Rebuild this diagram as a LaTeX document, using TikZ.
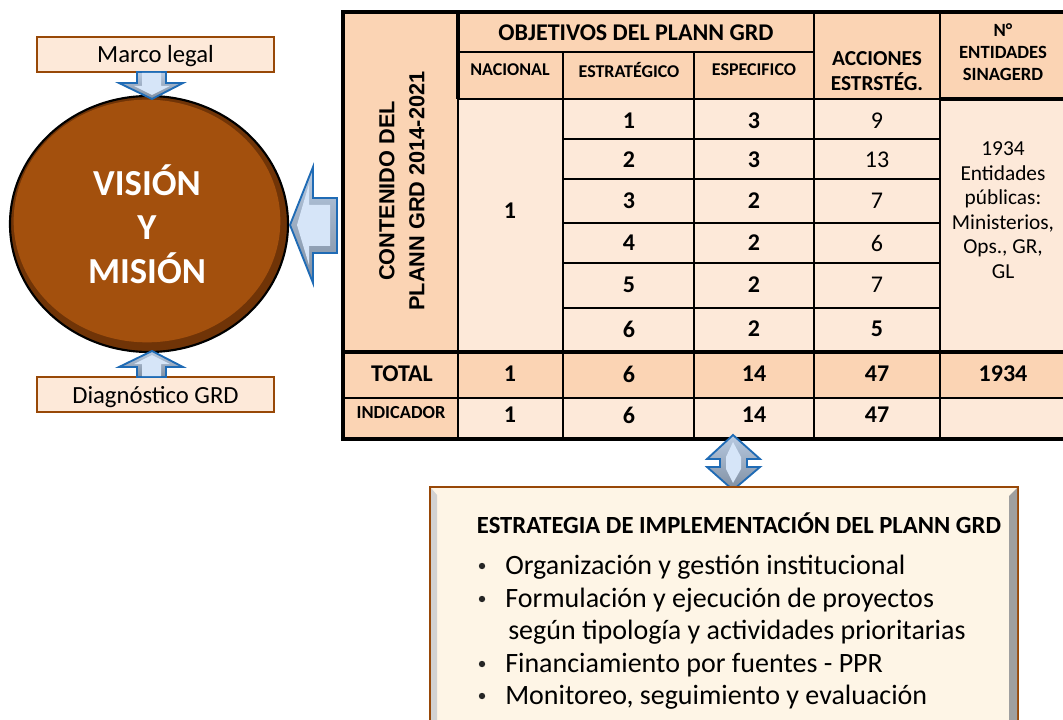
\documentclass[tikz,border=0pt]{standalone}
\usepackage{fontspec}
\usetikzlibrary{shapes.geometric}
\setmainfont{Carlito}
\newfontfamily\arialfont{Liberation Sans}
\definecolor{peach}{HTML}{FBD4B4}
\definecolor{lightpeach}{HTML}{FDE9D9}
\definecolor{cream}{HTML}{FEF5E6}
\definecolor{boxbrown}{HTML}{984807}
\definecolor{ballbrown}{HTML}{A3500D}
\definecolor{balldark}{HTML}{703407}
\definecolor{arrblue}{HTML}{1F6BB5}
\definecolor{arrlight}{HTML}{D6E5F8}
\definecolor{arrtop}{HTML}{B9CBE2}
\definecolor{arrgray}{HTML}{7F8EA1}
\begin{document}
\begin{tikzpicture}[x=0.75pt,y=-0.75pt,
  tline/.style={line width=1.1pt,black},
  tthick/.style={line width=2.3pt,black},
  hdr/.style={font=\bfseries\fontsize{13.5}{17}\selectfont,align=center,inner sep=0pt},
  bignum/.style={font=\bfseries\fontsize{18}{20}\selectfont,inner sep=0pt},
  regnum/.style={font=\fontsize{18}{20}\selectfont,inner sep=0pt},
  sidebox/.style={draw=boxbrown,line width=1.8pt,fill=lightpeach,minimum width=177.75pt,minimum height=26.25pt,inner sep=0pt},
  sidetext/.style={anchor=base,inner sep=0pt,font=\fontsize{18.5}{20}\selectfont},
  blockarrow/.style={draw=arrblue,line width=1.4pt,line join=miter,top color=arrtop,bottom color=arrgray},
  arrface/.style={fill=arrlight},
  bullettext/.style={anchor=base west,inner sep=0pt,font=\fontsize{21}{24}\selectfont},
  bulletdot/.style={circle,fill=black!85,inner sep=0pt,minimum size=4.8pt},
]
\useasboundingbox (0,0) rectangle (1063,720);
\clip (0,0) rectangle (1063,720);

% ---------------- left side ----------------
\node[ellipse,draw=black,line width=1.6pt,fill=balldark,minimum width=208.5pt,minimum height=192pt,inner sep=0pt] (ballout) at (149,224) {};
\node[ellipse,fill=ballbrown,minimum width=200pt,minimum height=182pt,inner sep=0pt] (ballin) at (147,221) {};
\node[align=center,text=white,font=\bfseries\fontsize{27.5}{33}\selectfont,inner sep=0pt] (vision) at (147,224) {VISIÓN\\Y\\MISIÓN};

\node[sidebox] (marco) at (155.5,54.5) {};
\node[sidetext] (marcot) at (155.5,63) {Marco legal};
\node[sidebox] (diag) at (155.5,394.5) {};
\node[sidetext] (diagt) at (155.5,403) {Diagnóstico GRD};

% down arrow (Marco legal -> circle)
\path[blockarrow] (137,72) -- (137,83) -- (119,83) -- (152,99) -- (183,83) -- (166,83) -- (166,72) -- cycle;
\path[arrface] (142,73) -- (142,86) -- (134,86) -- (152,95) -- (170,86) -- (161,86) -- (161,73) -- cycle;
% up arrow (Diagnostico -> circle)
\path[blockarrow] (137,377) -- (137,367) -- (119,367) -- (152,351) -- (183,367) -- (166,367) -- (166,377) -- cycle;
\path[arrface] (142,376) -- (142,364) -- (134,364) -- (152,355) -- (170,364) -- (161,364) -- (161,376) -- cycle;
% left arrow (table -> circle)
\path[blockarrow] (337,198) -- (313,198) -- (313,167) -- (290,225) -- (313,283) -- (313,253) -- (337,253) -- cycle;
\path[arrface] (330,205) -- (309,205) -- (309,184) -- (297,225) -- (309,265) -- (309,246) -- (330,246) -- cycle;

% ---------------- table ----------------
\fill[peach] (343,12) rectangle (1063,99);
\fill[peach] (343,99) rectangle (458,352);
\fill[lightpeach] (458,99) rectangle (1063,352);
\fill[peach] (343,352) rectangle (1063,398);
\fill[peach] (343,398) rectangle (458,439);
\fill[lightpeach] (458,398) rectangle (1063,439);

% vertical lines
\draw[tthick] (458,12) -- (458,99);
\draw[tline] (458,99) -- (458,439);
\draw[tline] (563,52) -- (563,439);
\draw[tline] (694,52) -- (694,439);
\draw[tline] (814,12) -- (814,439);
\draw[tline] (940,12) -- (940,439);
% horizontal lines
\draw[line width=1.6pt] (458,52) -- (814,52);
\draw[tline] (458,99) -- (940,99);
\draw[tthick] (940,99) -- (1063,99);
\foreach \yy in {139,179,223,263,308} { \draw[tline] (563,\yy) -- (940,\yy); }
\draw[line width=1.6pt] (563,179) rectangle (940,263);
\draw[line width=1.6pt] (563,223) -- (940,223);
\draw[tthick] (343,352) -- (1063,352);
\draw[tline] (343,398) -- (1063,398);
\draw[line width=2.8pt,line join=miter] (1064,12) -- (343,12) -- (343,439) -- (1064,439);

% header texts
\node[hdr,font=\bfseries\fontsize{18}{20}\selectfont] (objetivos) at (636,33) {OBJETIVOS DEL PLANN GRD};
\node[hdr] (nacional) at (510,70) {NACIONAL};
\node[hdr] (estrategico) at (629,70) {ESTRATÉGICO};
\node[hdr] (especifico) at (754,70) {ESPECIFICO};
\node[hdr,font=\bfseries\fontsize{16}{18.75}\selectfont] (acciones) at (877,71) {ACCIONES\\ESTRSTÉG.};
\node[hdr,font=\bfseries\fontsize{14}{16.5}\selectfont] (entidades) at (1003,52) {N°\\ENTIDADES\\SINAGERD};
\node[align=center,rotate=90,font=\arialfont\bfseries\fontsize{16.3}{22.5}\selectfont,inner sep=0pt] (contenido) at (402,191) {CONTENIDO DEL\\PLANN GRD 2014-2021};

% body
\node[bignum] (nac1) at (510,211) {1};
\node[bignum] (e1) at (629,121) {1};
\node[bignum] (e2) at (629,160) {2};
\node[bignum] (e3) at (629,201) {3};
\node[bignum] (e4) at (629,243) {4};
\node[bignum] (e5) at (629,285) {5};
\node[bignum] (e6) at (629,329) {6};
\node[bignum] (s1) at (754,121) {3};
\node[bignum] (s2) at (754,160) {3};
\node[bignum] (s3) at (754,201) {2};
\node[bignum] (s4) at (754,243) {2};
\node[bignum] (s5) at (754,285) {2};
\node[bignum] (s6) at (754,329) {2};
\node[regnum] (a1) at (877,121) {9};
\node[regnum] (a2) at (877,160) {13};
\node[regnum] (a3) at (877,201) {7};
\node[regnum] (a4) at (877,243) {6};
\node[regnum] (a5) at (877,285) {7};
\node[bignum] (a6) at (877,329) {5};
\node[align=center,font=\fontsize{16}{18.4}\selectfont,inner sep=0pt] (entbody) at (1003,210) {1934\\Entidades\\públicas:\\Ministerios,\\Ops., GR,\\GL};

% total row
\node[bignum] (total) at (402,374) {TOTAL};
\node[bignum] (t1) at (510,374) {1};
\node[bignum] (t2) at (629,374) {6};
\node[bignum] (t3) at (754,374) {14};
\node[bignum] (t4) at (877,374) {47};
\node[bignum] (t5) at (1003,374) {1934};
% indicador row
\node[hdr,font=\bfseries\fontsize{13.8}{15}\selectfont] (indicador) at (401,413) {INDICADOR};
\node[bignum] (i1) at (510,415) {1};
\node[bignum] (i2) at (629,415) {6};
\node[bignum] (i3) at (754,415) {14};
\node[bignum] (i4) at (877,415) {47};

% double arrow
\path[blockarrow] (733,435) -- (760,459) -- (747,459) -- (747,467) -- (760,467) -- (733,490) -- (707,467) -- (720,467) -- (720,459) -- (707,459) -- cycle;
\path[arrface] (733,442) -- (741,457) -- (741,469) -- (733,483) -- (726,469) -- (726,457) -- cycle;

% ---------------- bottom box ----------------
\draw[draw=boxbrown,line width=2.2pt,fill=cream] (430,487) rectangle (1018,735);
\fill[gray!75] (1009,496) -- (1017,488) -- (1017,722) -- (1009,722) -- cycle;
\fill[gray!35] (431,488) -- (437,495) -- (437,722) -- (431,722) -- cycle;
\node[font=\bfseries\fontsize{18.5}{20}\selectfont,inner sep=0pt] (estrategia) at (739,523) {ESTRATEGIA DE IMPLEMENTACIÓN DEL PLANN GRD};
\node[bulletdot] (b1) at (482,566) {};
\node[bullettext] (l1) at (505,574) {Organización y gestión institucional};
\node[bulletdot] (b2) at (482,599) {};
\node[bullettext] (l2) at (505,607) {Formulación y ejecución de proyectos};
\node[bullettext] (l3) at (508,639) {según tipología y actividades prioritarias};
\node[bulletdot] (b4) at (482,664) {};
\node[bullettext] (l4) at (505,672) {Financiamiento por fuentes - PPR};
\node[bulletdot] (b5) at (482,696) {};
\node[bullettext] (l5) at (505,704) {Monitoreo, seguimiento y evaluación};
\end{tikzpicture}
\end{document}
